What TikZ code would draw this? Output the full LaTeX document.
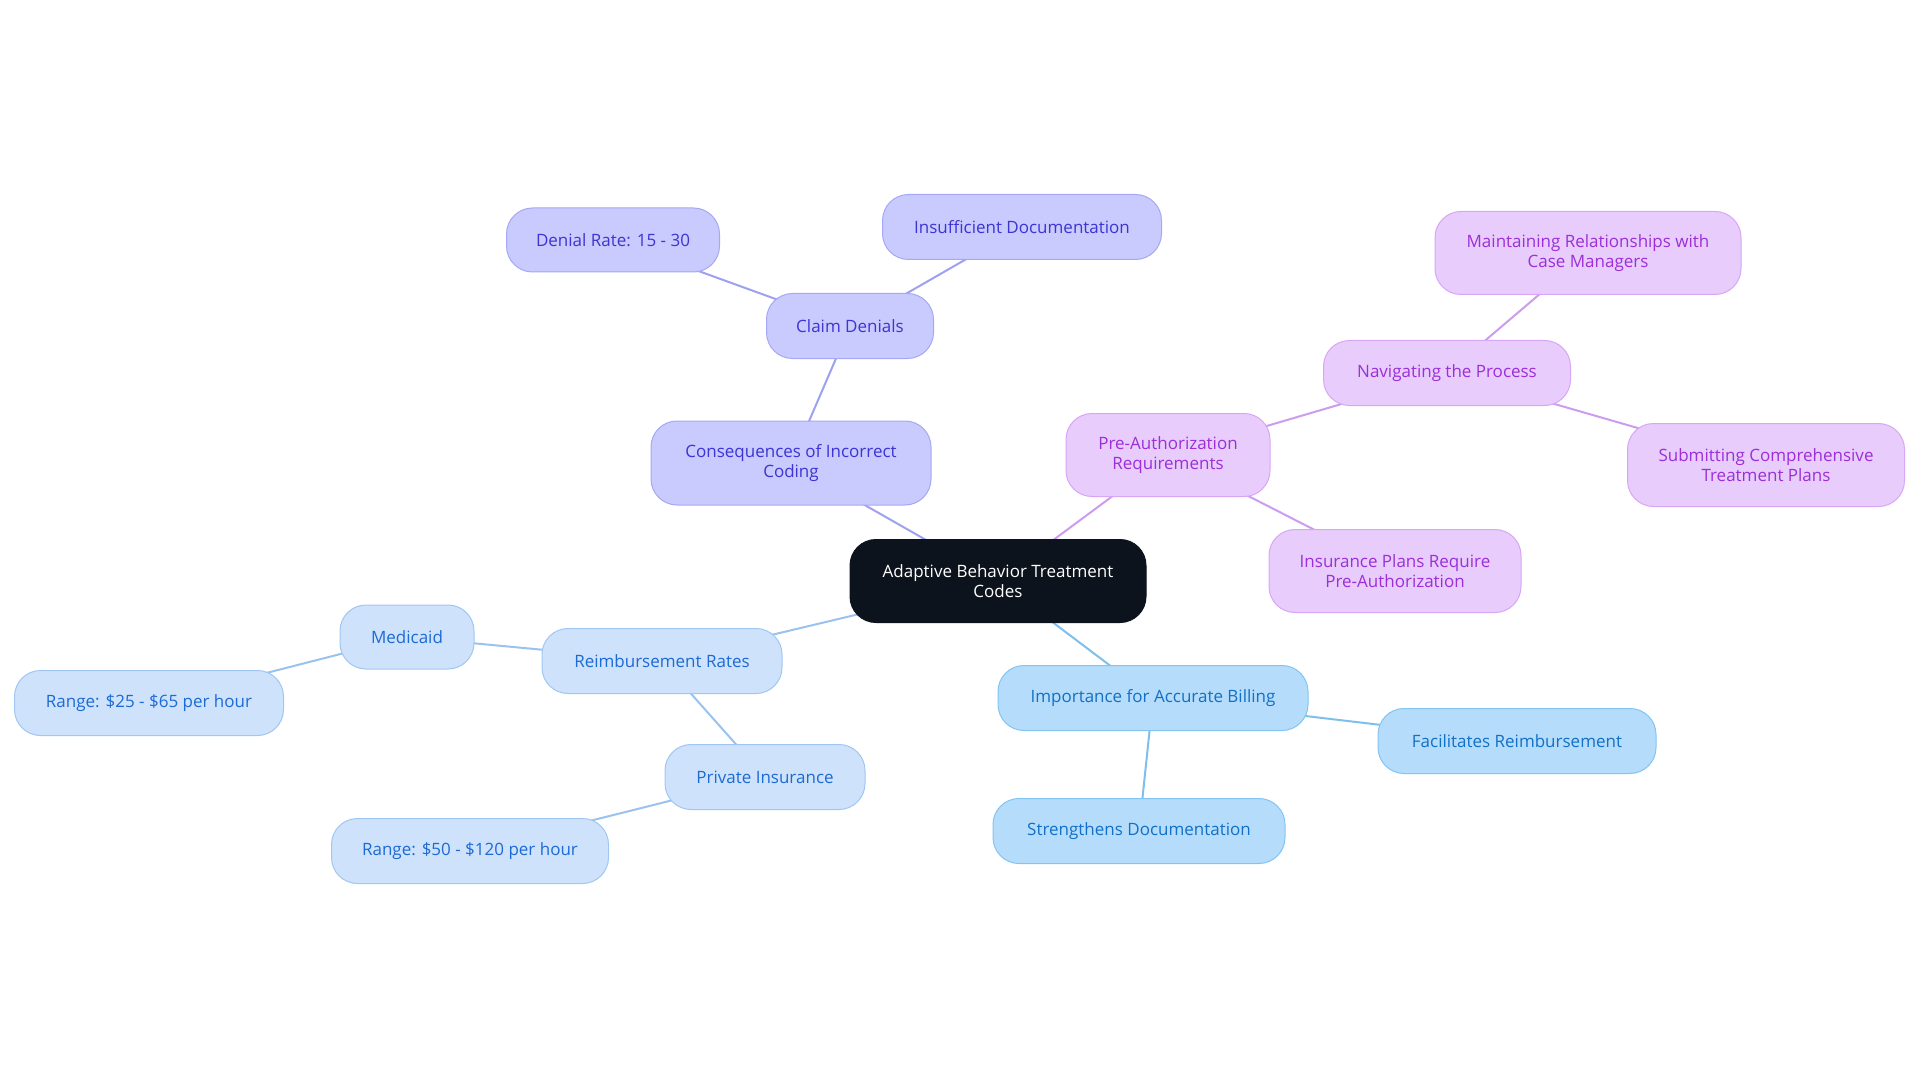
\documentclass[tikz,border=0pt]{standalone}
\usepackage{fontspec}
\setmainfont{Open Sans}
\usetikzlibrary{backgrounds}
\definecolor{vFill}{HTML}{C9CAFD}
\definecolor{vDraw}{HTML}{A5A8F4}
\definecolor{vText}{HTML}{3C34D4}
\definecolor{vLine}{HTML}{9EA0F0}
\definecolor{pFill}{HTML}{E8CCFC}
\definecolor{pDraw}{HTML}{D7A6F5}
\definecolor{pText}{HTML}{9B2FD8}
\definecolor{pLine}{HTML}{CC9CEF}
\definecolor{lFill}{HTML}{CEE3FB}
\definecolor{lDraw}{HTML}{A0C6F2}
\definecolor{lText}{HTML}{1D6AD4}
\definecolor{lLine}{HTML}{99C2EF}
\definecolor{sFill}{HTML}{B5DDFB}
\definecolor{sDraw}{HTML}{82C4F2}
\definecolor{sText}{HTML}{1270C6}
\definecolor{sLine}{HTML}{7EBFEC}
\definecolor{rootFill}{HTML}{0D131C}
\tikzset{
  base/.style={rectangle, rounded corners=26pt, line width=1pt, align=center,
    font=\fontsize{17}{19.5}\selectfont, inner sep=0pt},
  vbox/.style={base, fill=vFill, draw=vDraw, text=vText},
  pbox/.style={base, fill=pFill, draw=pDraw, text=pText},
  lbox/.style={base, fill=lFill, draw=lDraw, text=lText},
  sbox/.style={base, fill=sFill, draw=sDraw, text=sText},
  rootbox/.style={base, fill=rootFill, draw=rootFill, text=white},
  sz/.style 2 args={minimum width=#1pt, minimum height=#2pt},
  conn/.style={line width=2pt}
}
\begin{document}
\begin{tikzpicture}[x=1pt,y=-1pt]
\useasboundingbox (0,0) rectangle (1920,1083);
% root
\node[rootbox, sz={296}{83}] (root) at (998,581) {Adaptive Behavior Treatment\\Codes};
% violet branch
\node[vbox, sz={280}{84}] (cons) at (791,463) {Consequences of Incorrect\\Coding};
\node[vbox, sz={167}{65}] (claim) at (850,326) {Claim Denials};
\node[vbox, sz={213}{64}] (rate) at (613,240) {Denial Rate: 15 - 30};
\node[vbox, sz={279}{65}] (insuf) at (1022,227) {Insufficient Documentation};
% purple branch
\node[pbox, sz={204}{83}] (preauth) at (1168,455) {Pre-Authorization\\Requirements};
\node[pbox, sz={247}{65}] (nav) at (1447,373) {Navigating the Process};
\node[pbox, sz={306}{83}] (maint) at (1588,253) {Maintaining Relationships with\\Case Managers};
\node[pbox, sz={277}{83}] (submit) at (1766,465) {Submitting Comprehensive\\Treatment Plans};
\node[pbox, sz={252}{83}] (insplans) at (1395,571) {Insurance Plans Require\\Pre-Authorization};
% sky branch
\node[sbox, sz={310}{65}] (imp) at (1153,698) {Importance for Accurate Billing};
\node[sbox, sz={278}{65}] (facil) at (1517,741) {Facilitates Reimbursement};
\node[sbox, sz={292}{65}] (streng) at (1139,831) {Strengthens Documentation};
% light blue branch
\node[lbox, sz={240}{65}] (reimb) at (662,661) {Reimbursement Rates};
\node[lbox, sz={134}{64}] (medicaid) at (407,637) {Medicaid};
\node[lbox, sz={269}{65}] (range1) at (149,703) {Range: \$25 - \$65 per hour};
\node[lbox, sz={200}{65}] (priv) at (765,777) {Private Insurance};
\node[lbox, sz={277}{65}] (range2) at (470,851) {Range: \$50 - \$120 per hour};
\begin{scope}[on background layer]
\draw[conn, vLine] (root.center) -- (cons.center);
\draw[conn, vLine] (cons.center) -- (claim.center);
\draw[conn, vLine] (claim.center) -- (rate.center);
\draw[conn, vLine] (claim.center) -- (insuf.center);
\draw[conn, pLine] (root.center) -- (preauth.center);
\draw[conn, pLine] (preauth.center) -- (nav.center);
\draw[conn, pLine] (nav.center) -- (maint.center);
\draw[conn, pLine] (nav.center) -- (submit.center);
\draw[conn, pLine] (preauth.center) -- (insplans.center);
\draw[conn, sLine] (root.center) -- (imp.center);
\draw[conn, sLine] (imp.center) -- (facil.center);
\draw[conn, sLine] (imp.center) -- (streng.center);
\draw[conn, lLine] (root.center) -- (reimb.center);
\draw[conn, lLine] (reimb.center) -- (medicaid.center);
\draw[conn, lLine] (medicaid.center) -- (range1.center);
\draw[conn, lLine] (reimb.center) -- (priv.center);
\draw[conn, lLine] (priv.center) -- (range2.center);
\end{scope}
\end{tikzpicture}
\end{document}
